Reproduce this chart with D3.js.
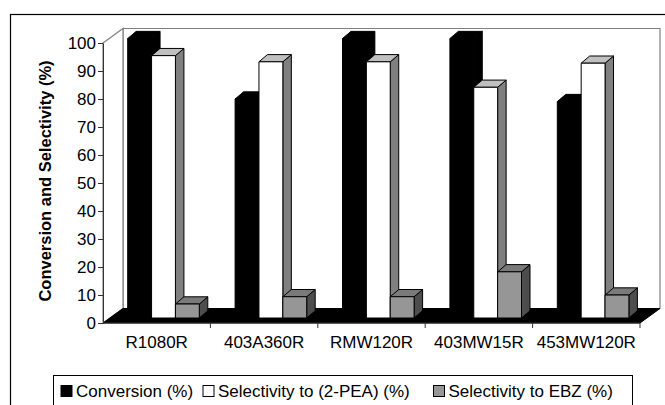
<!DOCTYPE html>
<html><head><meta charset="utf-8">
<script src="https://cdn.jsdelivr.net/npm/d3@7"></script>
<style>
body{margin:0;background:#fff}
svg{display:block}
text{font-family:"Liberation Sans",Arial,sans-serif;fill:#000}
</style>
</head><body>
<svg id="c" width="665" height="405"></svg>
<script>
// ---- data ----
const categories = ["R1080R", "403A360R", "RMW120R", "403MW15R", "453MW120R"];
const seriesNames = ["Conversion (%)", "Selectivity to (2-PEA) (%)", "Selectivity to EBZ (%)"];
const conversion = [99.8, 78.2, 99.8, 99.8, 77.3];
const selectivity2PEA = [93.7, 91.5, 91.5, 82.4, 91.0];
const selectivityEBZ = [5.0, 7.6, 7.6, 16.5, 8.2];
const yTicks = [0, 10, 20, 30, 40, 50, 60, 70, 80, 90, 100];
const yTitle = "Conversion and Selectivity (%)";

const seriesValues = [conversion, selectivity2PEA, selectivityEBZ];
// face colours per series: front, top, side
const faceColors = [
  {front: "#000000", top: "#000000", side: "#000000"},
  {front: "#ffffff", top: "#c0c0c0", side: "#808080"},
  {front: "#969696", top: "#7a7a7a", side: "#4d4d4d"}
];

const svg = d3.select("#c");

// geometry
const left = 103, right = 640, y0 = 323, y100 = 43;
const depth = {x: 20, y: -14.5};         // floor / wall depth
const barShift = {x: 6.8, y: -5};         // bar front plane offset
const barDepth = {x: 8.5, y: -7.2};       // bar thickness in depth

const x = d3.scaleBand().domain(categories).range([left, right]).paddingInner(0).paddingOuter(0);
const xi = d3.scaleBand().domain(d3.range(seriesNames.length)).range([0, x.bandwidth()]).paddingInner(0).paddingOuter(0.75);
const y = d3.scaleLinear().domain([0, 100]).range([y0, y100]);

// outer frame
svg.append("rect").attr("x", 10.5).attr("y", 14.5).attr("width", 680).attr("height", 420)
  .attr("fill", "#fff").attr("stroke", "#000").attr("stroke-width", 1.2);

const pts = a => a.map(p => p.join(",")).join(" ");

// back wall
svg.append("polygon")
  .attr("points", pts([[left + depth.x, y100 + depth.y], [right + depth.x, y100 + depth.y], [right + depth.x, y0 + depth.y], [left + depth.x, y0 + depth.y]]))
  .attr("fill", "#fff").attr("stroke", "#808080").attr("stroke-width", 1.2);
// left wall
svg.append("polygon")
  .attr("points", pts([[left, y100], [left + depth.x, y100 + depth.y], [left + depth.x, y0 + depth.y], [left, y0]]))
  .attr("fill", "#fff").attr("stroke", "#808080").attr("stroke-width", 1.2);
// floor
svg.append("polygon")
  .attr("points", pts([[left, y0], [left + depth.x, y0 + depth.y], [right + depth.x, y0 + depth.y], [right, y0]]))
  .attr("fill", "#000").attr("stroke", "#000").attr("stroke-width", 1);

// bars
const gBars = svg.append("g");
categories.forEach((c, ci) => {
  seriesValues.forEach((vals, si) => {
    const v = vals[ci];
    const fx = x(c) + xi(si) + barShift.x;
    const w = xi.bandwidth();
    const fb = y(0) + barShift.y;
    const ft = y(v) + barShift.y;
    const col = faceColors[si];
    const g = gBars.append("g").attr("stroke", "#000").attr("stroke-width", 1).attr("stroke-linejoin", "round");
    // side
    g.append("polygon").attr("points", pts([[fx + w, ft], [fx + w + barDepth.x, ft + barDepth.y], [fx + w + barDepth.x, fb + barDepth.y], [fx + w, fb]]))
      .attr("fill", col.side);
    // top
    g.append("polygon").attr("points", pts([[fx, ft], [fx + barDepth.x, ft + barDepth.y], [fx + w + barDepth.x, ft + barDepth.y], [fx + w, ft]]))
      .attr("fill", col.top);
    // front
    g.append("rect").attr("x", fx).attr("y", ft).attr("width", w).attr("height", fb - ft)
      .attr("fill", col.front);
  });
});

// y axis
const yAxis = svg.append("g").attr("transform", `translate(${left},0)`)
  .call(d3.axisLeft(y).tickValues(yTicks).tickSize(5).tickSizeOuter(0).tickPadding(2));
yAxis.select(".domain").attr("stroke", "#333");
yAxis.selectAll(".tick line").attr("stroke", "#333");
yAxis.selectAll("text").attr("font-size", 17).style("font-family", '"Liberation Sans", Arial, sans-serif');

// floor front edge
svg.append("line").attr("x1", left).attr("x2", right).attr("y1", y0).attr("y2", y0).attr("stroke", "#333");

// category boundary ticks
svg.append("g").selectAll("line").data(categories).join("line")
  .attr("x1", d => x(d) + x.bandwidth()).attr("x2", d => x(d) + x.bandwidth())
  .attr("y1", y0).attr("y2", y0 + 5).attr("stroke", "#333");

// x labels
const xAxis = svg.append("g").attr("transform", `translate(0,${y0})`)
  .call(d3.axisBottom(x).tickSize(0).tickPadding(13));
xAxis.select(".domain").remove();
xAxis.selectAll("text").attr("font-size", 17).style("font-family", '"Liberation Sans", Arial, sans-serif');

// y title
svg.append("text").attr("transform", "translate(51,181) rotate(-90)")
  .attr("text-anchor", "middle").attr("font-size", 16.5).attr("font-weight", "bold").text(yTitle);

// legend
svg.append("rect").attr("x", 53.5).attr("y", 375.5).attr("width", 579).attr("height", 50)
  .attr("fill", "#fff").attr("stroke", "#000").attr("stroke-width", 1);
const legendX = [61, 203, 433.5];
const lg = svg.append("g").selectAll("g").data(seriesNames).join("g")
  .attr("transform", (d, i) => `translate(${legendX[i]},385.5)`);
lg.append("rect").attr("width", 11).attr("height", 11)
  .attr("fill", (d, i) => faceColors[i].front).attr("stroke", "#000").attr("stroke-width", 1);
lg.append("text").attr("x", 15).attr("y", 11.5).attr("font-size", 17).text(d => d);
</script>
</body></html>
